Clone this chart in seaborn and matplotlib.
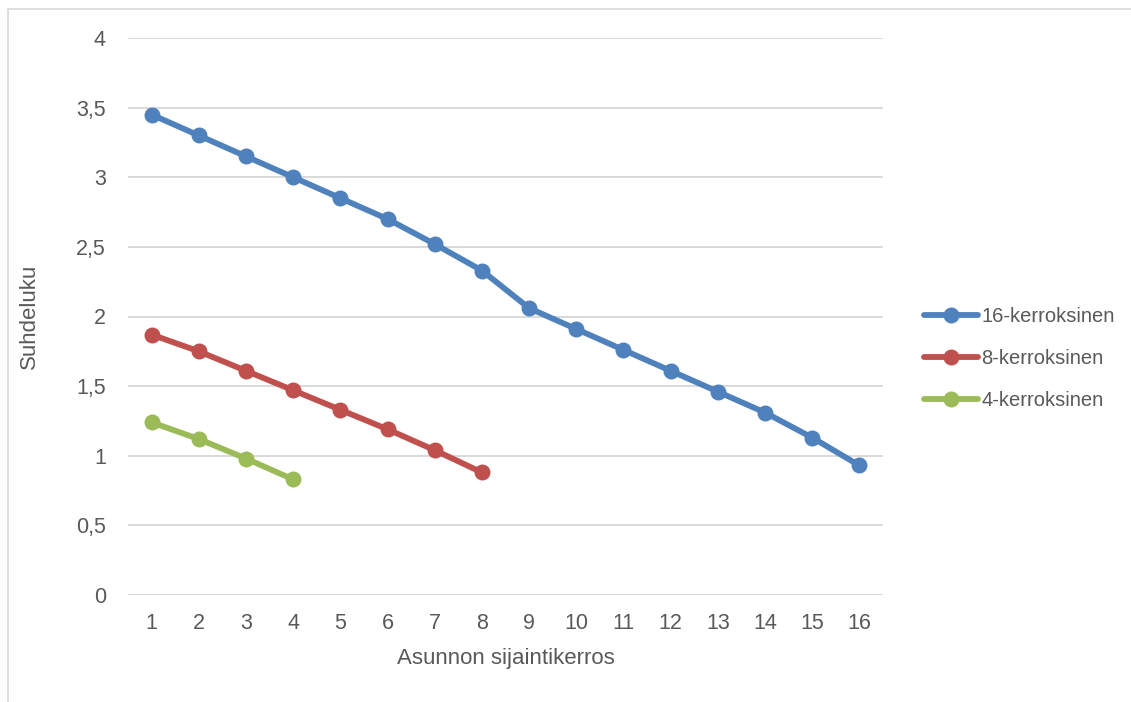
import matplotlib
matplotlib.use('Agg')
import matplotlib.pyplot as plt
import seaborn as sns
import pandas as pd
from matplotlib.patches import Rectangle
from matplotlib.ticker import FuncFormatter

# data
floors = list(range(1, 17))
vals_16 = [3.45, 3.30, 3.15, 3.00, 2.85, 2.70, 2.52, 2.33,
           2.06, 1.91, 1.76, 1.61, 1.46, 1.31, 1.13, 0.93]
vals_8 = [1.87, 1.75, 1.61, 1.47, 1.33, 1.19, 1.04, 0.88]
vals_4 = [1.24, 1.12, 0.98, 0.83]
series_names = ['16-kerroksinen', '8-kerroksinen', '4-kerroksinen']
colors = ['#4F81BD', '#C0504D', '#9BBB59']

df = pd.concat([
    pd.DataFrame({'kerros': floors[:len(v)], 'arvo': v, 'sarja': name})
    for v, name in zip([vals_16, vals_8, vals_4], series_names)
])

sns.set_theme(style='white')
plt.rcParams['font.family'] = ['Liberation Sans', 'DejaVu Sans']
txt = '#595959'

fig = plt.figure(figsize=(11.31, 7.02), dpi=100)
ax = fig.add_axes([128 / 1131, 1 - 595 / 702, 755 / 1131, 557 / 702])

# chart frame (only top and left edges visible in the reference)
fig.patches.append(Rectangle((8 / 1131, -0.1), 1.2, 1.1 - 9 / 702,
                             transform=fig.transFigure, fill=False,
                             edgecolor='#D9D9D9', lw=1.2))

sns.lineplot(data=df, x='kerros', y='arvo', hue='sarja', hue_order=series_names,
             palette=colors, marker='o', markersize=11.5, markeredgewidth=0,
             linewidth=4.2, ax=ax)

ax.set_xlim(0.5, 16.5)
ax.set_ylim(0, 4)
ax.set_xticks(floors)
ax.set_yticks([i * 0.5 for i in range(9)])
ax.yaxis.set_major_formatter(FuncFormatter(lambda v, p: f'{v:g}'.replace('.', ',')))
ax.grid(axis='y', color='#D9D9D9', lw=1.4)
ax.grid(axis='x', visible=False)
ax.set_axisbelow(True)
for s in ax.spines.values():
    s.set_visible(False)
ax.tick_params(axis='both', length=0, labelsize=15.5, colors=txt)
ax.tick_params(axis='x', pad=13)
ax.tick_params(axis='y', pad=16)
ax.set_xlabel('Asunnon sijaintikerros', fontsize=16, color=txt, labelpad=10)
ax.set_ylabel('Suhdeluku', fontsize=16, color=txt, labelpad=26)

leg = ax.legend(loc='center left', bbox_to_anchor=(1.03, 0.425), frameon=False,
                fontsize=14.5, handlelength=2.7, handletextpad=0.15,
                labelspacing=1.15, labelcolor=txt)
for h in leg.legend_handles:
    h.set_linewidth(4.2)

fig.savefig('out.png', dpi=100)
